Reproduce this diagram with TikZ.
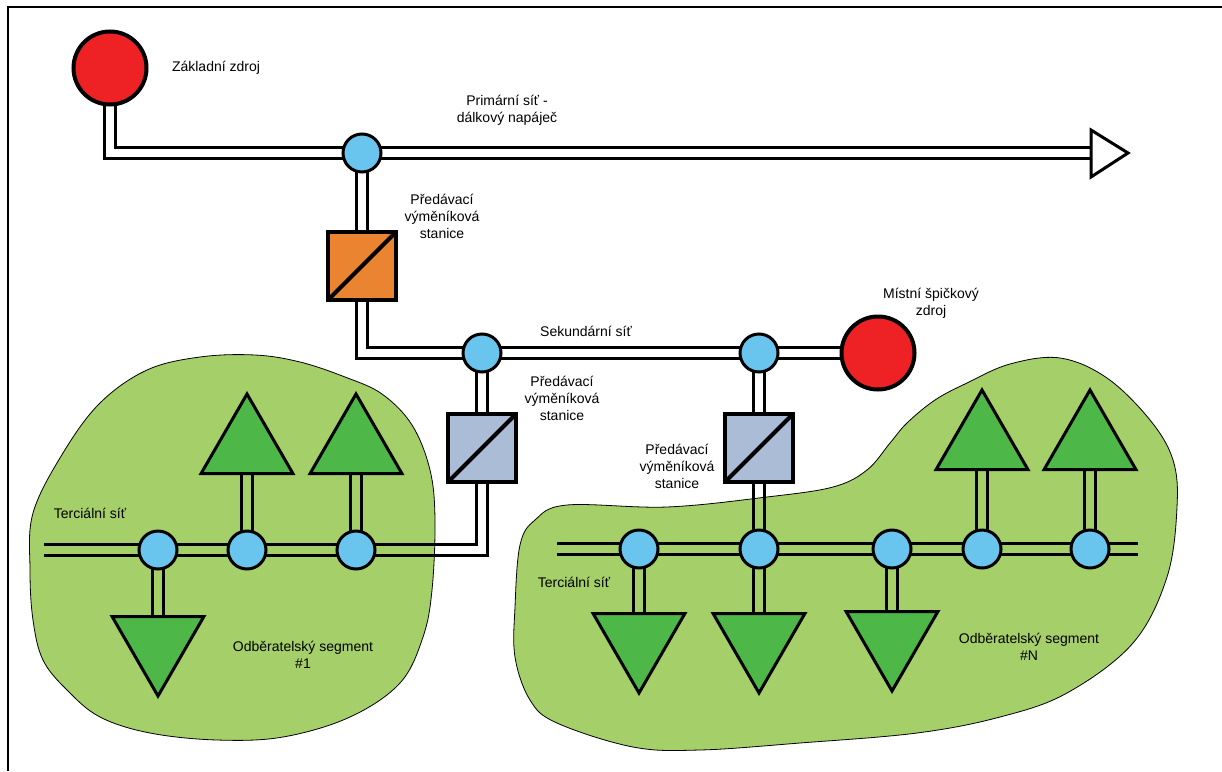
\documentclass[tikz,border=0pt]{standalone}
\usepackage{fontspec}
\setmainfont{Liberation Sans}
\usetikzlibrary{shapes.geometric}
\definecolor{srcred}{HTML}{EE2224}
\definecolor{jblue}{HTML}{6AC5EE}
\definecolor{exorange}{HTML}{EA8431}
\definecolor{exgrey}{HTML}{ABBDD6}
\definecolor{tgreen}{HTML}{4DB848}
\definecolor{blobgreen}{HTML}{A5CF68}
\pgfdeclarelayer{blob}
\pgfdeclarelayer{pipes}
\pgfsetlayers{blob,pipes,main}
\newcommand\hpipe[1]{%
  \draw[pipe,transform canvas={yshift=5.5pt}] #1;
  \draw[pipe,transform canvas={yshift=-5.5pt}] #1;}
\newcommand\vpipe[1]{%
  \draw[pipe,transform canvas={xshift=5.5pt}] #1;
  \draw[pipe,transform canvas={xshift=-5.5pt}] #1;}
\newcommand\lpipe[1]{%
  \draw[pipe,transform canvas={xshift=-5.5pt,yshift=-5.5pt}] #1;
  \draw[pipe,transform canvas={xshift=5.5pt,yshift=5.5pt}] #1;}
\newcommand\rpipe[1]{%
  \draw[pipe,transform canvas={xshift=5.5pt,yshift=-5.5pt}] #1;
  \draw[pipe,transform canvas={xshift=-5.5pt,yshift=5.5pt}] #1;}
\begin{document}
\begin{tikzpicture}[x=1pt,y=-1pt,
  font=\fontsize{14}{17}\selectfont,
  pipe/.style={line width=3.2pt, line join=miter, line cap=butt},
  junc/.style={circle, draw, line width=3pt, fill=jblue, minimum size=38pt, inner sep=0pt},
  source/.style={circle, draw, line width=4pt, fill=srcred, minimum size=73pt, inner sep=0pt},
  exch/.style={rectangle, draw, line width=4pt, minimum size=68pt, inner sep=0pt,
    path picture={\draw[line width=4pt] (path picture bounding box.south west) -- (path picture bounding box.north east);}},
  triup/.style={regular polygon, regular polygon sides=3, draw, line width=3pt, fill=tgreen,
    minimum size=106pt, inner sep=0pt, line join=miter},
  tridown/.style={triup, shape border rotate=180},
  lbl/.style={align=center, inner sep=0pt},
  blobstyle/.style={draw=black, line width=0.8pt, fill=blobgreen}]
\useasboundingbox (0,0) rectangle (1222,771);
% frame
\draw[line width=1.6pt] (8,771) -- (8,7) -- (1222,7);

% blobs
\begin{pgfonlayer}{blob}
\draw[blobstyle] plot[smooth cycle, tension=0.6] coordinates {
 (147,370) (200,357) (255,355) (300,362) (345,377) (382,394) (412,425) (430,470)
 (435,520) (432,590) (423,637) (400,683) (350,717) (283,737) (217,740) (150,733)
 (100,717) (67,690) (43,660) (33,620) (30,570) (33,513) (63,453) (100,403)};
\draw[blobstyle] plot[smooth cycle, tension=0.6] coordinates {
 (567,505) (667,507) (767,497) (833,487) (867,470) (890,443) (907,423) (935,400)
 (967,383) (1010,364) (1060,358) (1107,378) (1150,420) (1173,460) (1177,507)
 (1167,577) (1133,643) (1067,693) (1000,717) (917,733) (800,743) (700,750)
 (633,747) (557,723) (530,700) (515,657) (515,607) (520,545) (535,520)};
\end{pgfonlayer}

% primary
\node[source] (src) at (110,68) {};
\node[junc] (pj) at (362,153) {};
\coordinate (arrowback) at (1090,153);
\draw[line width=3pt, fill=white, line join=miter] (1091,130) -- (1128,153) -- (1091,177) -- cycle;
\node[exch, fill=exorange] (ex1) at (362,266) {};

% secondary
\node[junc] (sj1) at (482,353) {};
\node[junc] (sj2) at (759,353) {};
\node[source] (peak) at (878,353) {};
\node[exch, fill=exgrey] (ex2) at (482,448) {};
\node[exch, fill=exgrey] (ex3) at (759,448) {};

% tertiary left
\coordinate (tL) at (44,550);
\node[junc] (tj1) at (158,550) {};
\node[junc] (tj2) at (247,550) {};
\node[junc] (tj3) at (356,550) {};
\node[triup] (ut1) at (247,447) {};
\node[triup] (ut2) at (356,447) {};
\node[tridown] (dt1) at (158,643) {};

% tertiary right
\coordinate (rL) at (557,549);
\coordinate (rR) at (1138,549);
\node[junc] (rj1) at (639,549) {};
\node[junc] (rj2) at (759,549) {};
\node[junc] (rj3) at (892,549) {};
\node[junc] (rj4) at (982,549) {};
\node[junc] (rj5) at (1090,549) {};
\node[tridown] (rd1) at (639,640) {};
\node[tridown] (rd2) at (759,640) {};
\node[tridown] (rd3) at (892,638) {};
\node[triup] (ru1) at (982,443) {};
\node[triup] (ru2) at (1090,443) {};

% pipes
\begin{pgfonlayer}{pipes}
\lpipe{(src.center) |- (pj.center)}
\hpipe{(pj.center) -- (arrowback)}
\vpipe{(pj.center) -- (ex1.center)}
\lpipe{(ex1.center) |- (sj1.center)}
\hpipe{(sj1.center) -- (sj2.center)}
\hpipe{(sj2.center) -- (peak.center)}
\vpipe{(sj1.center) -- (ex2.center)}
\vpipe{(sj2.center) -- (ex3.center)}
\rpipe{(ex2.center) |- (tj3.center)}
\hpipe{(tL) -- (tj3.center)}
\vpipe{(tj1.center) -- (dt1.center)}
\vpipe{(tj2.center) -- (ut1.center)}
\vpipe{(tj3.center) -- (ut2.center)}
\vpipe{(ex3.center) -- (rj2.center)}
\hpipe{(rL) -- (rR)}
\vpipe{(rj1.center) -- (rd1.center)}
\vpipe{(rj2.center) -- (rd2.center)}
\vpipe{(rj3.center) -- (rd3.center)}
\vpipe{(rj4.center) -- (ru1.center)}
\vpipe{(rj5.center) -- (ru2.center)}
\end{pgfonlayer}

% labels
\node[lbl] (lzak) at (216,68) {Základní zdroj};
\node[lbl] (lprim) at (507,110) {Primární síť -\\dálkový napáječ};
\node[lbl] (lex1) at (442,216) {Předávací\\výměníková\\stanice};
\node[lbl] (lsek) at (586,331) {Sekundární síť};
\node[lbl] (lex2) at (562,398) {Předávací\\výměníková\\stanice};
\node[lbl] (lex3) at (677,466) {Předávací\\výměníková\\stanice};
\node[lbl] (lpeak) at (931,303) {Místní špičkový\\zdroj};
\node[lbl] (lter1) at (90,513) {Terciální síť};
\node[lbl] (lter2) at (574,582) {Terciální síť};
\node[lbl] (lseg1) at (303,655) {Odběratelský segment\\\#1};
\node[lbl] (lsegn) at (1029,647) {Odběratelský segment\\\#N};
\end{tikzpicture}
\end{document}
